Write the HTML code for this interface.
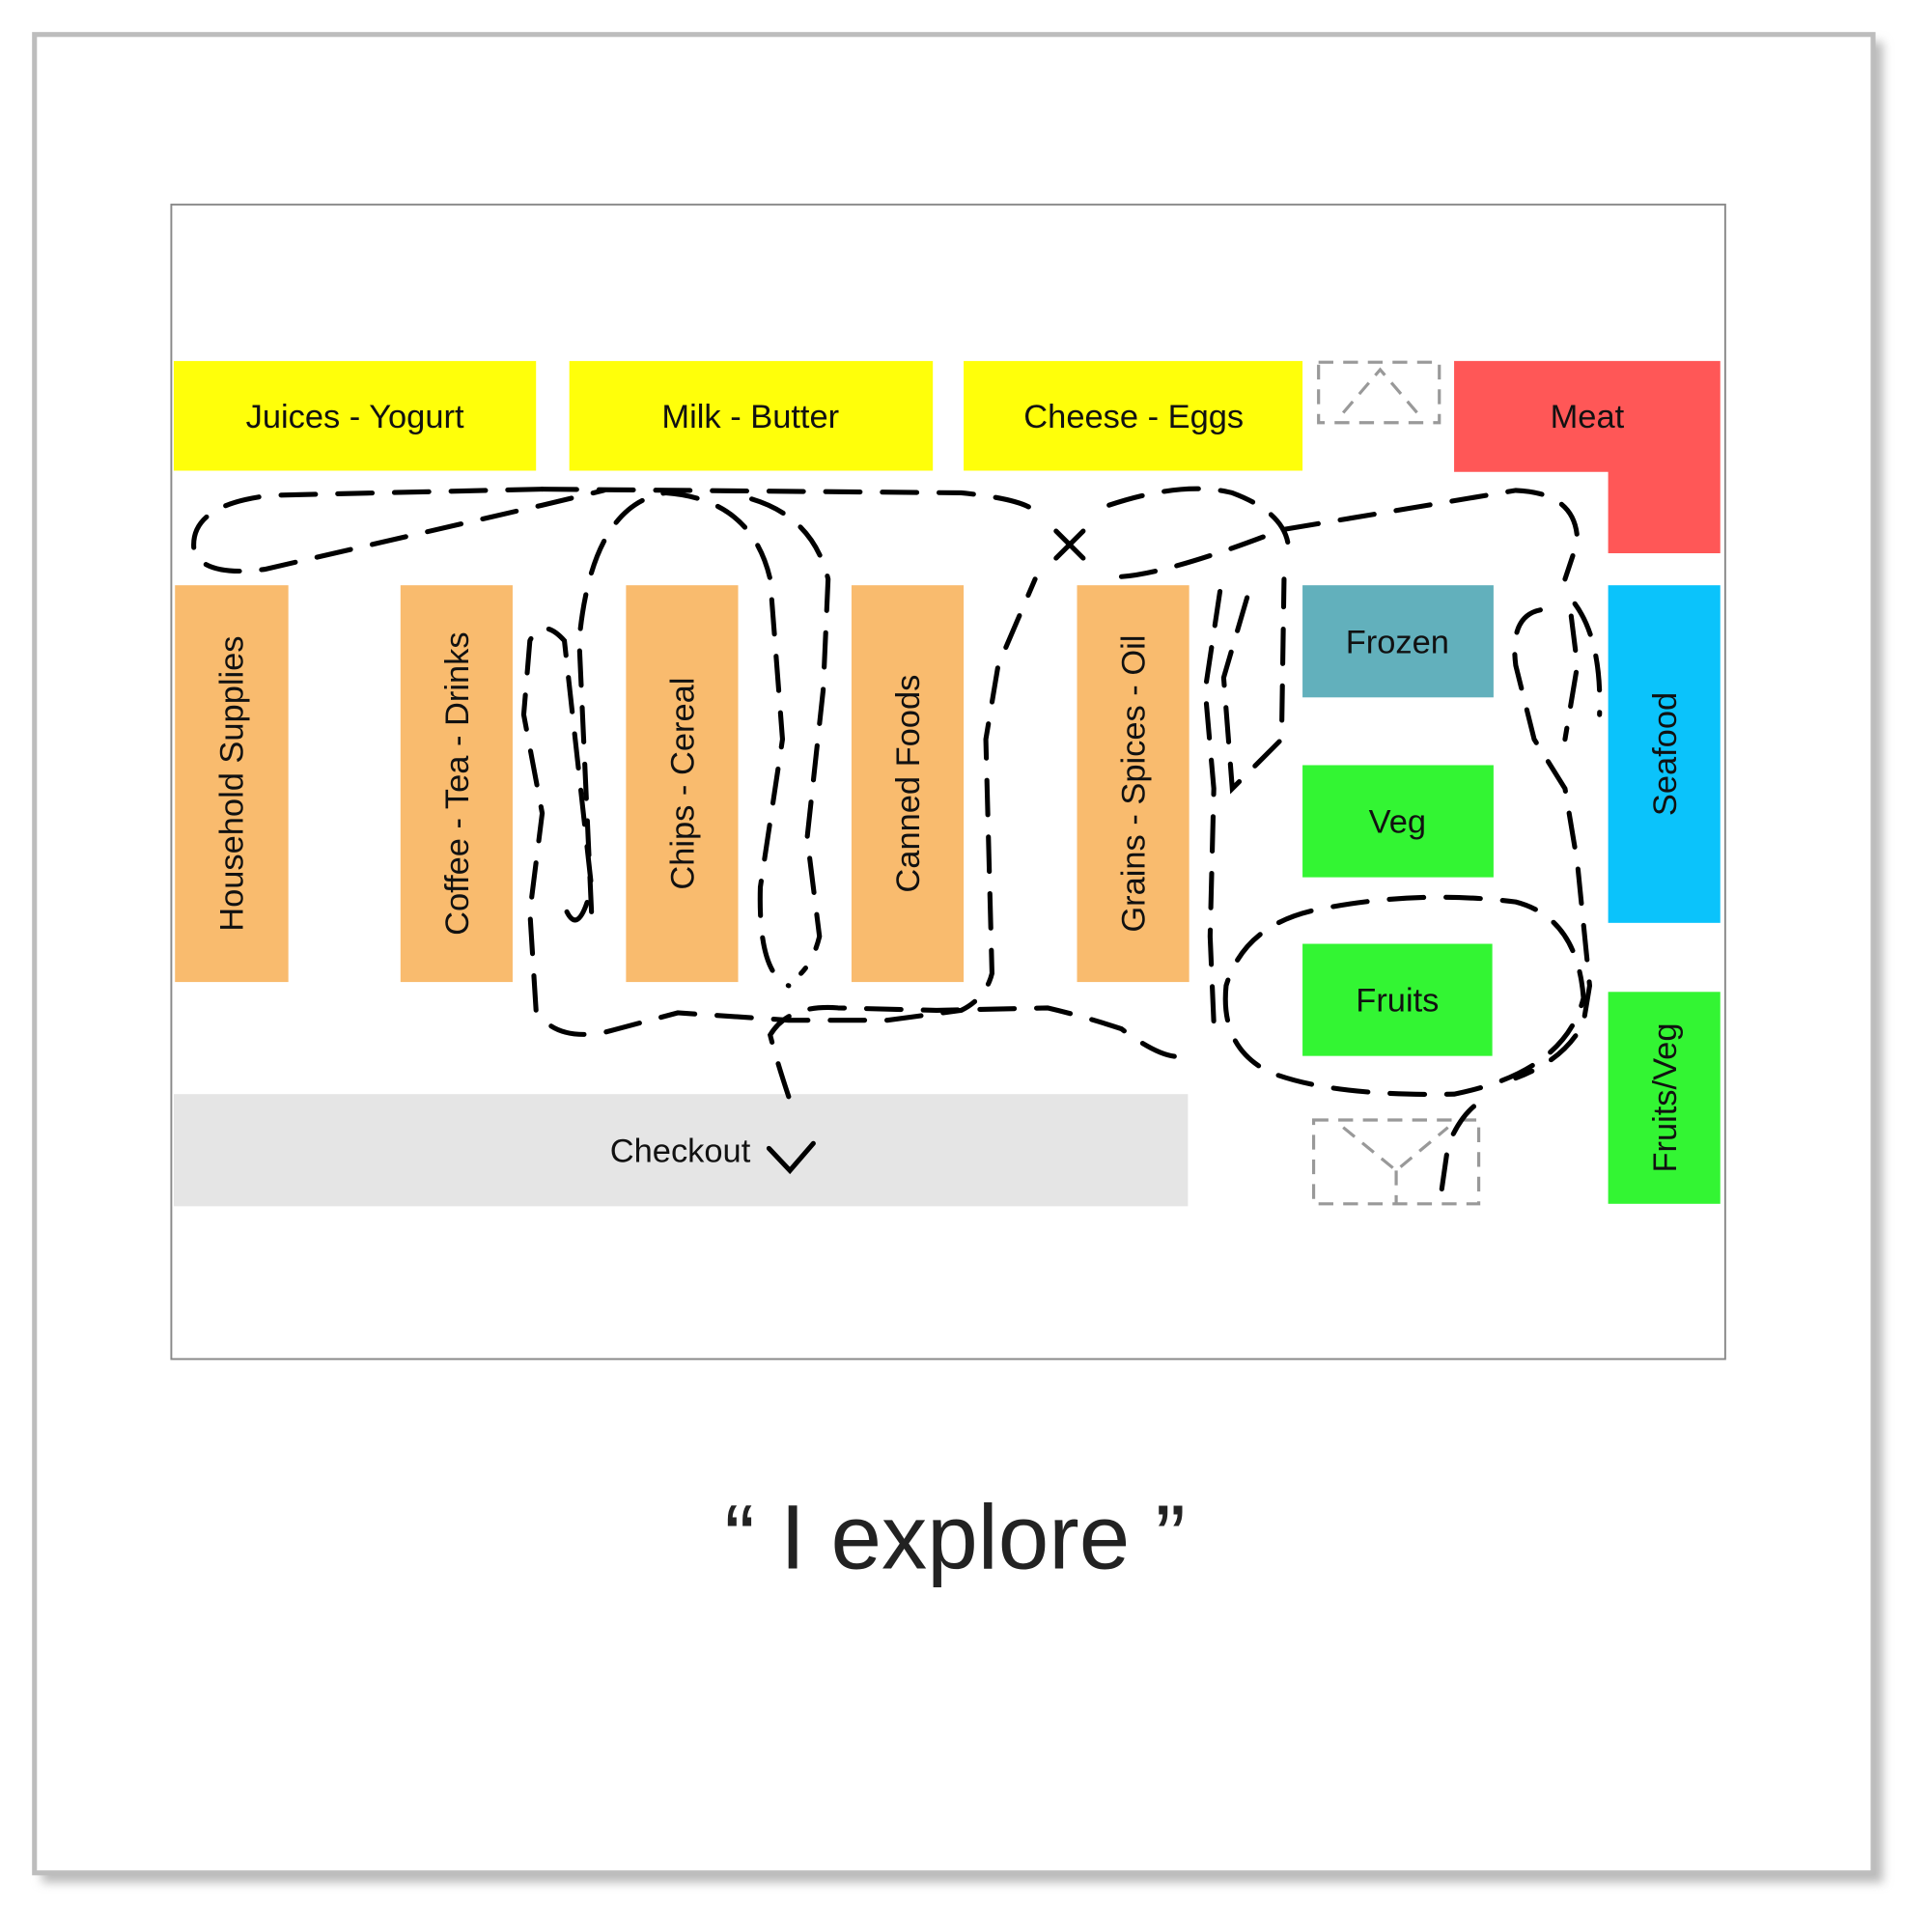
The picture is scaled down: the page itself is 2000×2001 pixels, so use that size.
<!DOCTYPE html>
<html><head><meta charset="utf-8"><style>
html,body{margin:0;padding:0;background:#fff;}
svg{display:block;}
text{font-family:"Liberation Sans",sans-serif;}
</style></head><body>
<svg width="2000" height="2001" viewBox="0 0 1567 1568" preserveAspectRatio="none" xmlns="http://www.w3.org/2000/svg">
<defs><filter id="sh" x="-5%" y="-5%" width="110%" height="110%"><feGaussianBlur stdDeviation="4"/></filter></defs>
<rect x="0" y="0" width="1567" height="1568" fill="#fff"/>
<rect x="34" y="34" width="1494" height="1494" fill="#bbb" filter="url(#sh)"/>
<rect x="28" y="28" width="1492" height="1492" fill="#fff" stroke="#bdbdbd" stroke-width="4"/>
<rect x="139" y="166" width="1261" height="937" fill="#fff" stroke="#888" stroke-width="1.5"/>
<g fill="#ffff0a">
<rect x="141" y="293" width="294" height="89"/><rect x="462" y="293" width="295" height="89"/><rect x="782" y="293" width="275" height="89"/>
</g>
<path d="M1180 293 H1396 V449 H1305 V383 H1180 Z" fill="#ff5757"/>
<g fill="#f9bb6e">
<rect x="142" y="475" width="92" height="322"/><rect x="325" y="475" width="91" height="322"/><rect x="508" y="475" width="91" height="322"/><rect x="691" y="475" width="91" height="322"/><rect x="874" y="475" width="91" height="322"/>
</g>
<rect x="1057" y="475" width="155" height="91" fill="#62b0bc"/>
<rect x="1057" y="621" width="155" height="91" fill="#33f533"/>
<rect x="1057" y="766" width="154" height="91" fill="#33f533"/>
<rect x="1305" y="475" width="91" height="274" fill="#0bc3fb"/>
<rect x="1305" y="805" width="91" height="172" fill="#33f533"/>
<rect x="141" y="888" width="823" height="91" fill="#e5e5e5"/>
<g fill="none" stroke="#999" stroke-width="2.5" stroke-dasharray="12 8">
<rect x="1070" y="294" width="98" height="49"/><path d="M1090 335 L1120 300 L1150 335"/>
<rect x="1066" y="909" width="134" height="68"/><path d="M1090 915 L1133 950 L1175 915 M1133 950 V977"/>
</g>
<g font-size="27" fill="#111" text-anchor="middle">
<text x="288" y="347">Juices - Yogurt</text>
<text x="609" y="347">Milk - Butter</text>
<text x="920" y="347">Cheese - Eggs</text>
<text x="1288" y="347">Meat</text>
<text x="1134" y="530">Frozen</text>
<text x="1134" y="676">Veg</text>
<text x="1134" y="821">Fruits</text>
<text x="552" y="943">Checkout</text>
<text transform="translate(197,636) rotate(-90)">Household Supplies</text>
<text transform="translate(380,636) rotate(-90)">Coffee - Tea - Drinks</text>
<text transform="translate(563,636) rotate(-90)">Chips - Cereal</text>
<text transform="translate(746,636) rotate(-90)">Canned Foods</text>
<text transform="translate(929,636) rotate(-90)">Grains - Spices - Oil</text>
<text transform="translate(1360,612) rotate(-90)">Seafood</text>
<text transform="translate(1360,891) rotate(-90)">Fruits/Veg</text>
</g>
<text x="775" y="1273" font-size="74" fill="#222" text-anchor="middle">“ I explore ”</text>
<g fill="none" stroke="#000" stroke-width="4" stroke-dasharray="28 18" stroke-linecap="round">
<path d="M440 397 L220 402 Q150 410 158 450 Q170 468 215 462 L440 410 L490 398"/>
<path d="M440 397 L780 400 Q830 405 840 415"/>
<path d="M480 740 L470 520 Q480 410 540 400 Q610 405 625 470 L635 600 L617 720 Q615 790 640 800"/>
<path d="M460 740 Q470 760 480 720 L458 520 Q440 500 430 520 L425 580 L440 660 L430 740 L435 820 Q450 845 490 838 L550 822 L640 828 L720 828 L780 820 Q800 810 805 790 L800 600 L810 540 L840 470"/>
<path d="M610 405 Q660 420 672 470 L668 560 L655 680 L665 760 Q660 780 650 790"/>
<path d="M640 890 Q630 860 625 840 Q640 815 680 818 L760 820 L850 818 Q880 825 910 835 Q950 865 965 855"/>
<path d="M900 410 Q960 390 1000 400 Q1040 415 1045 440"/>
<path d="M910 468 Q950 465 1040 430 L1230 398 Q1280 400 1280 440 L1270 470"/>
<path d="M990 480 L978 560 L985 640 L982 760 L985 830"/>
<path d="M1012 485 L993 550 L1000 640 L1040 600 L1042 470"/>
<path d="M1250 495 Q1225 500 1230 540 L1245 600 L1270 640 L1280 700 L1290 800 L1285 830 Q1270 860 1230 875"/>
<path d="M1278 490 Q1300 520 1298 580 M1275 500 L1280 540 L1270 600"/>
<path d="M995 800 Q990 850 1030 870 Q1080 890 1180 888 Q1270 870 1285 810 Q1280 745 1230 732 Q1150 722 1070 738 Q1010 750 995 800"/>
<path d="M1170 965 L1175 930 Q1185 905 1200 895"/>
</g>
<g stroke="#000" stroke-width="4" fill="none" stroke-linecap="round">
<path d="M857 431 L879 453 M879 431 L857 453"/>
<path d="M624 932 L641 950 L660 928"/>
</g>
</svg>
</body></html>
